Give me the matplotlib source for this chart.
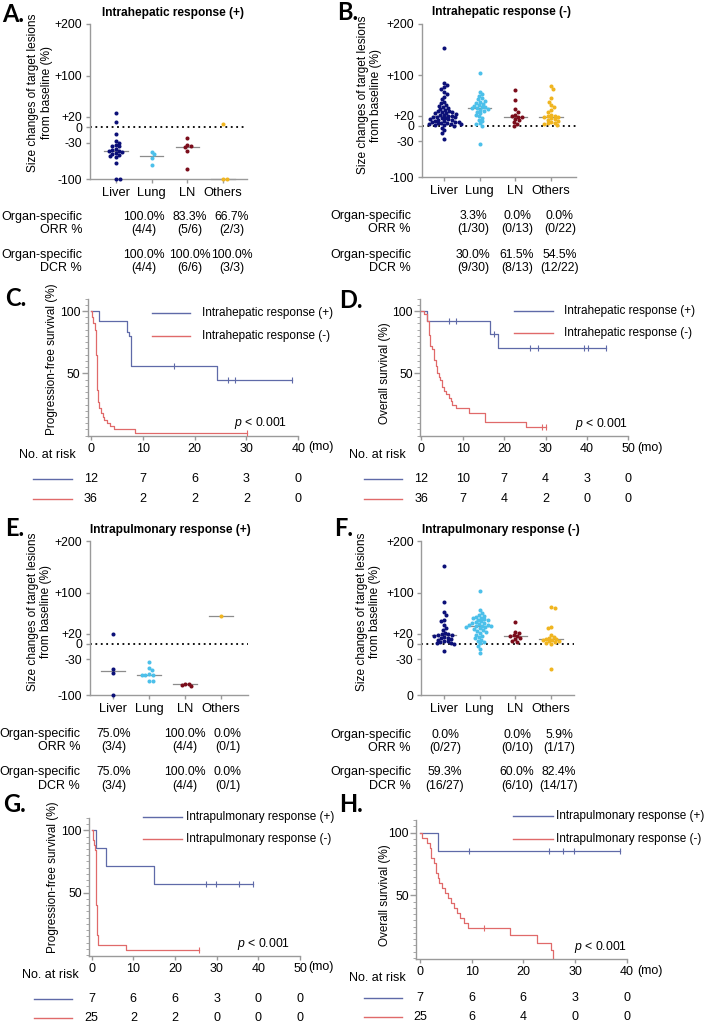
import numpy as np
import matplotlib
matplotlib.use("Agg")
import matplotlib.pyplot as plt
from matplotlib.lines import Line2D
from matplotlib.transforms import blended_transform_factory

plt.rcParams['font.family'] = ['Liberation Sans', 'DejaVu Sans']
plt.rcParams['mathtext.fontset'] = 'custom'
plt.rcParams['mathtext.it'] = 'Liberation Sans:italic'
plt.rcParams['mathtext.rm'] = 'Liberation Sans'

# ---------------- data ----------------
organs = ["Liver", "Lung", "LN", "Others"]
organ_colors = ["#0c1078", "#4cc0ea", "#7b0d1b", "#f0b520"]

y_ticks = [-100, -30, 0, 20, 100, 200]
y_ticklabels = ["-100", "-30", "0", "+20", "+100", "+200"]
y_ticklabels_F = ["0", "-30", "0", "+20", "+100", "+200"]

# Panel A: intrahepatic response (+)
A_liver = [28, 11, -13, -27, -30, -34, -36, -37, -42, -43, -45, -46, -48, -50,
           -52, -54, -56, -58, -70, -100, -100]
A_lung = [-48, -52, -60, -72]
A_ln = [-20, -34, -37, -39, -45, -81]
A_others = [6, -100, -100]

# Panel B: intrahepatic response (-)
B_liver = [153, 84, 80, 76, 72, 66, 62, 57, 52, 48, 45, 42, 40, 38, 36, 34, 32,
           30, 29, 28, 27, 26, 25, 24, 22, 21, 20, 19, 18, 18, 17, 16, 15, 14,
           13, 12, 11, 10, 9, 8, 8, 7, 6, 5, 5, 4, 3, 3, 2, 1, 0, -3, -8, -13, -26]
B_lung = [103, 67, 62, 58, 55, 52, 50, 48, 46, 44, 42, 40, 38, 37, 36, 35, 34,
          32, 30, 28, 25, 22, 19, 16, 12, 9, 5, 3, 0, -36]
B_ln = [71, 51, 33, 28, 22, 19, 18, 17, 14, 11, 8, 4, 0]
B_others = [78, 72, 54, 48, 41, 37, 31, 28, 22, 20, 19, 18, 17, 15, 13, 12, 10,
            8, 6, 5, 3, 2]

# Panel E: intrapulmonary response (+)
E_liver = [19, -49, -57, -100]
E_lung = [-36, -46, -50, -58, -60, -60, -61, -72, -73]
E_ln = [-81, -77, -80, -77]
E_others = [54]

# Panel F: intrapulmonary response (-)
F_liver = [153, 81, 63, 57, 47, 44, 37, 31, 27, 22, 20, 19, 18, 17, 16, 14, 12,
           11, 9, 8, 6, 5, 4, 2, 1, 0, -13]
F_lung = [103, 66, 61, 57, 55, 53, 51, 50, 48, 47, 46, 44, 42, 41, 40, 39, 38,
          37, 36, 35, 35, 34, 33, 31, 30, 28, 26, 24, 21, 18, 16, 13, 11, 8, 6,
          3, 1, -4, -10, -17]
F_ln = [42, 24, 21, 18, 16, 15, 12, 9, 6, 3]
F_others = [73, 71, 34, 31, 18, 14, 12, 10, 9, 8, 7, 6, 5, 3, 1, 0, -49]

# Organ-specific response rate tables
A_orr_pct = ["100.0%", "83.3%", "66.7%"]
A_orr_frac = ["(4/4)", "(5/6)", "(2/3)"]
A_dcr_pct = ["100.0%", "100.0%", "100.0%"]
A_dcr_frac = ["(4/4)", "(6/6)", "(3/3)"]
B_orr_pct = ["3.3%", "0.0%", "0.0%"]
B_orr_frac = ["(1/30)", "(0/13)", "(0/22)"]
B_dcr_pct = ["30.0%", "61.5%", "54.5%"]
B_dcr_frac = ["(9/30)", "(8/13)", "(12/22)"]
E_orr_pct = ["75.0%", "100.0%", "0.0%"]
E_orr_frac = ["(3/4)", "(4/4)", "(0/1)"]
E_dcr_pct = ["75.0%", "100.0%", "0.0%"]
E_dcr_frac = ["(3/4)", "(4/4)", "(0/1)"]
F_orr_pct = ["0.0%", "0.0%", "5.9%"]
F_orr_frac = ["(0/27)", "(0/10)", "(1/17)"]
F_dcr_pct = ["59.3%", "60.0%", "82.4%"]
F_dcr_frac = ["(16/27)", "(6/10)", "(14/17)"]

# Kaplan-Meier curves: step times, survival (%), end of follow-up, censor times
C_pos_t = [0, 1.6, 7.0, 7.3, 7.7, 24.4]
C_pos_s = [100, 91.7, 83.3, 80.0, 55.6, 44.4]
C_pos_end = 38.7
C_pos_cens = [16.0, 26.5, 27.8, 38.7]
C_neg_t = [0, 0.2, 0.5, 0.8, 1.0, 1.1, 1.2, 1.3, 1.47, 1.67, 2.0, 2.3, 2.6, 3.1,
           3.7, 4.4, 8.5]
C_neg_s = [100, 95, 90, 85, 80, 65, 50, 37, 27, 22, 18, 15, 12.5, 10, 7.5, 5.0, 2.5]
C_neg_end = 30.1
C_neg_cens = [30.1]
C_risk_pos = [12, 7, 6, 3, 0]
C_risk_neg = [36, 2, 2, 2, 0]

D_pos_t = [0, 1.45, 16.5, 18.5]
D_pos_s = [100, 91.7, 81.5, 70.0]
D_pos_end = 44.7
D_pos_cens = [6.8, 8.5, 17.6, 26.2, 28.3, 39.2, 40.3, 44.7]
D_neg_t = [0, 0.6, 1.3, 1.85, 2.1, 2.6, 3.06, 3.5, 3.86, 4.2, 4.5, 5.1, 5.5, 5.9,
           6.7, 7.1, 7.5, 8.3, 11.5, 15.5, 25.4]
D_neg_s = [100, 97.2, 91.7, 80.6, 72.2, 69.4, 61.1, 55.6, 50.0, 47.2, 44.4, 38.9,
           36.1, 33.3, 30.6, 27.8, 25.0, 22.2, 18.3, 11.0, 7.3]
D_neg_end = 30.2
D_neg_cens = [29.2, 30.2]
D_risk_pos = [12, 10, 7, 4, 3, 0]
D_risk_neg = [36, 7, 4, 2, 0, 0]

G_pos_t = [0, 1.0, 3.4, 14.9]
G_pos_s = [100, 85.7, 71.4, 57.1]
G_pos_end = 38.6
G_pos_cens = [27.5, 29.9, 35.4, 38.6]
G_neg_t = [0, 0.2, 0.4, 0.6, 0.8, 1.0, 1.1, 1.2, 1.36, 1.6, 8.3]
G_neg_s = [100, 96, 92, 88, 84, 64, 40, 20, 16, 8, 4]
G_neg_end = 25.8
G_neg_cens = [25.8]
G_risk_pos = [7, 6, 6, 3, 0, 0]
G_risk_neg = [25, 2, 2, 0, 0, 0]

H_pos_t = [0, 3.5]
H_pos_s = [100, 85.7]
H_pos_end = 38.8
H_pos_cens = [9.5, 25.0, 27.7, 29.8, 38.8]
H_neg_t = [0, 0.45, 1.4, 1.9, 2.2, 2.7, 3.0, 3.4, 3.7, 4.3, 4.8, 5.4, 6.0, 6.6,
           7.2, 7.7, 8.5, 9.2, 17.5, 22.7, 25.3, 25.8]
H_neg_s = [100, 96, 92, 88, 80, 76, 68, 64, 60, 56, 52, 48, 44, 40, 36, 32, 28,
           24, 18, 12, 6, 0]
H_neg_end = 25.8
H_neg_cens = [12.4]
H_risk_pos = [7, 6, 6, 3, 0]
H_risk_neg = [25, 6, 4, 0, 0]

km_blue = "#5f6aa8"
km_red = "#e06a6a"
axis_gray = "#9a9a9a"

# ---------------- figure ----------------
W, H = 709, 1029
fig = plt.figure(figsize=(W / 100, H / 100), dpi=100)


def T(x, y, s, **kw):
    return fig.text(x / W, 1 - y / H, s, **kw)


def axes_map(xp, xv, xlim, yp, yv, ylim):
    sx = (xp[1] - xp[0]) / (xv[1] - xv[0])
    x0 = xp[0] + (xlim[0] - xv[0]) * sx
    x1 = xp[0] + (xlim[1] - xv[0]) * sx
    sy = (yp[1] - yp[0]) / (yv[1] - yv[0])
    y_top = yp[0] + (ylim[1] - yv[0]) * sy
    y_bot = yp[0] + (ylim[0] - yv[0]) * sy
    ax = fig.add_axes([x0 / W, 1 - y_bot / H, (x1 - x0) / W, (y_bot - y_top) / H])
    ax.set_xlim(xlim)
    ax.set_ylim(ylim)
    ax.patch.set_alpha(0)
    return ax, abs(sx), abs(sy)


def swarm_offsets(vals, ypx, xpx, d=3.4):
    vals = np.asarray(vals, float)
    order = np.argsort(-vals, kind="stable")
    placed = []
    offs = np.zeros(len(vals))
    flip = 1
    for i in order:
        y = vals[i] * ypx
        best = None
        for k in range(0, 400):
            cands = [0.0] if k == 0 else [flip * k * 0.4, -flip * k * 0.4]
            for x in cands:
                if all((x - px) ** 2 + (y - py) ** 2 >= d * d for px, py in placed):
                    best = x
                    break
            if best is not None:
                break
        if best != 0:
            flip = -flip
        placed.append((best, y))
        offs[i] = best / xpx
    return offs


def style_axes(ax):
    for sp in ["top", "right"]:
        ax.spines[sp].set_visible(False)
    for sp in ["left", "bottom"]:
        ax.spines[sp].set_color(axis_gray)
        ax.spines[sp].set_linewidth(1.0)
    ax.tick_params(colors=axis_gray, labelcolor="black", width=1.0)


def scatter_panel(xp, xlim, yp, groups, ylabels, title, tpos, letter, lpos,
                  ylab_pos):
    ax, sx, sy = axes_map(xp, (0, 3), xlim, yp, (0, -100), (-100, 200))
    style_axes(ax)
    for i, (vals, col) in enumerate(zip(groups, organ_colors)):
        v = np.asarray(vals, float)
        off = swarm_offsets(v, sy, sx)
        med = np.median(v)
        ax.plot([i - 0.33, i + 0.33], [med, med], color="#8c8c8c", lw=0.9,
                zorder=2, clip_on=False)
        ax.scatter(i + off, v, s=8.5, color=col, lw=0, zorder=4, clip_on=False)
    ax.plot(xlim, [0, 0], color="black", lw=1.3, ls=(0, (1, 2.0)), zorder=1)
    ax.set_yticks(y_ticks)
    ax.set_yticklabels(ylabels, fontsize=8.8)
    ax.set_xticks(range(4))
    ax.set_xticklabels(organs, fontsize=9.3)
    ax.tick_params(axis="both", length=3, pad=2.5)
    T(tpos[0], tpos[1], title, ha="center", va="center", fontsize=8.6,
      fontweight="bold")
    T(lpos[0], lpos[1], letter, ha="left", va="center", fontsize=17,
      fontweight="bold", family=["Lato", "Liberation Sans"])
    T(ylab_pos[0], ylab_pos[1], "Size changes of target lesions\nfrom baseline (%)",
      ha="center", va="center", rotation=90, fontsize=8.6, linespacing=1.15)
    return ax


def rate_rows(label_x, cols, y_orr, y_dcr, orr_pct, orr_frac, dcr_pct, dcr_frac):
    for (y1, y2), name, pct, frac in [(y_orr, "ORR %", orr_pct, orr_frac),
                                       (y_dcr, "DCR %", dcr_pct, dcr_frac)]:
        T(label_x, y1, "Organ-specific", ha="right", va="center", fontsize=9.0)
        T(label_x, y2, name, ha="right", va="center", fontsize=9.0)
        for cx, p, f in zip(cols, pct, frac):
            T(cx, y1, p, ha="center", va="center", fontsize=8.8)
            T(cx, y2, f, ha="center", va="center", fontsize=8.8)


def fig_line(x0, x1, y, color):
    fig.add_artist(Line2D([x0 / W, x1 / W], [1 - y / H, 1 - y / H],
                          transform=fig.transFigure, color=color, lw=1.0))


def km_curve(ax, t, s, end, cens, color):
    t = np.asarray(t, float)
    s = np.asarray(s, float)
    tt = np.append(t, end)
    ss = np.append(s, s[-1])
    ax.step(tt, ss, where="post", color=color, lw=0.9, zorder=3)
    if len(cens):
        c = np.asarray(cens, float)
        cy = s[np.searchsorted(t, c, side="right") - 1]
        ax.plot(c, cy, ls="none", marker="|", ms=4, mew=0.8, color=color,
                zorder=3)


def km_panel(xp, xv, xlim, yp, xticks, pos, neg, ylabel, ylab_pos, legend,
             leg_x, leg_y, pval_pos, mo_pos, risk_label_pos, risk_ys, risk_line_x,
             risk_pos, risk_neg, letter, lpos):
    ax, sx, sy = axes_map(xp, xv, xlim, yp, (0, 100), (-0.5, 110))
    style_axes(ax)
    km_curve(ax, *pos, km_blue)
    km_curve(ax, *neg, km_red)
    ax.set_xticks(xticks)
    ax.set_xticklabels([str(x) for x in xticks], fontsize=9)
    ax.set_yticks([50, 100])
    ax.set_yticklabels(["50", "100"], fontsize=8.8)
    ax.set_yticks(np.arange(0, 111, 5), minor=True)
    ax.tick_params(axis="x", length=3, pad=2)
    ax.tick_params(axis="y", which="major", length=4.5, pad=0.8)
    ax.tick_params(axis="y", which="minor", length=2.5, colors=axis_gray)
    T(ylab_pos[0], ylab_pos[1], ylabel, rotation=90, ha="center", va="center",
      fontsize=8.5)
    for yy, col, lab in zip(leg_y, [km_blue, km_red], legend):
        fig_line(leg_x[0], leg_x[1], yy, col)
        T(leg_x[2], yy, lab, ha="left", va="center", fontsize=8.5)
    T(pval_pos[0], pval_pos[1], r"$p$ < 0.001", ha="right", va="center",
      fontsize=8.8)
    T(mo_pos[0], mo_pos[1], "(mo)", ha="left", va="center", fontsize=9)
    T(risk_label_pos[0], risk_label_pos[1], "No. at risk", ha="right",
      va="center", fontsize=9)
    trans = blended_transform_factory(ax.transData, fig.transFigure)
    for yy, col, vals in zip(risk_ys, [km_blue, km_red], [risk_pos, risk_neg]):
        fig_line(risk_line_x[0], risk_line_x[1], yy, col)
        for x, n in zip(xticks, vals):
            ax.text(x, 1 - yy / H, str(n), transform=trans, ha="center",
                    va="center", fontsize=9)
    T(lpos[0], lpos[1], letter, ha="left", va="center", fontsize=17,
      fontweight="bold", family=["Lato", "Liberation Sans"])
    return ax


# ----- scatter panels -----
scatter_panel((116, 223), (-0.73, 3.67), (127.3, 179.0),
              [A_liver, A_lung, A_ln, A_others], y_ticklabels,
              "Intrahepatic response (+)", (173, 13), "A.", (2, 14), (40, 93))
scatter_panel((444, 551), (-0.62, 3.7), (126.0, 177.0),
              [B_liver, B_lung, B_ln, B_others], y_ticklabels,
              "Intrahepatic response (-)", (502, 12), "B.", (337, 13), (369.5, 95))
scatter_panel((113, 221), (-0.64, 3.74), (644.0, 695.3),
              [E_liver, E_lung, E_ln, E_others], y_ticklabels,
              "Intrapulmonary response (+)", (170, 530), "E.", (5, 528), (39.5, 612))
scatter_panel((444, 551), (-0.64, 3.64), (644.0, 695.3),
              [F_liver, F_lung, F_ln, F_others], y_ticklabels_F,
              "Intrapulmonary response (-)", (501, 530), "F.", (334, 528), (368.5, 612))

rate_rows(82, [144, 190, 232], (217, 230), (255, 268),
          A_orr_pct, A_orr_frac, A_dcr_pct, A_dcr_frac)
rate_rows(411, [473, 517, 560], (216, 229), (255, 268),
          B_orr_pct, B_orr_frac, B_dcr_pct, B_dcr_frac)
rate_rows(80, [114, 185, 228], (734, 747), (772, 786),
          E_orr_pct, E_orr_frac, E_dcr_pct, E_dcr_frac)
rate_rows(411, [445, 517, 559], (735, 748), (772, 786),
          F_orr_pct, F_orr_frac, F_dcr_pct, F_dcr_frac)

# ----- Kaplan-Meier panels -----
hep = ["Intrahepatic response (+)", "Intrahepatic response (-)"]
pul = ["Intrapulmonary response (+)", "Intrapulmonary response (-)"]

km_panel((90.7, 298.3), (0, 40), (-0.6, 40), (435.7, 311.0), [0, 10, 20, 30, 40],
         (C_pos_t, C_pos_s, C_pos_end, C_pos_cens),
         (C_neg_t, C_neg_s, C_neg_end, C_neg_cens),
         "Progression-free survival (%)", (52, 359), hep,
         (152, 190, 202), (313, 336), (287, 423), (308, 447), (76, 455),
         (479, 499), (33, 72), C_risk_pos, C_risk_neg, "C.", (5, 299))
km_panel((421.3, 628.3), (0, 50), (-0.3, 50), (435.7, 311.0),
         [0, 10, 20, 30, 40, 50],
         (D_pos_t, D_pos_s, D_pos_end, D_pos_cens),
         (D_neg_t, D_neg_s, D_neg_end, D_neg_cens),
         "Overall survival (%)", (385, 373), hep,
         (514, 553, 564), (311, 333), (628, 424), (637, 448), (406, 455),
         (479, 499), (364, 402), D_risk_pos, D_risk_neg, "D.", (339, 301))
km_panel((91.7, 300.0), (0, 50), (-0.6, 50), (955.0, 830.3),
         [0, 10, 20, 30, 40, 50],
         (G_pos_t, G_pos_s, G_pos_end, G_pos_cens),
         (G_neg_t, G_neg_s, G_neg_end, G_neg_cens),
         "Progression-free survival (%)", (53, 877.5), pul,
         (143, 182, 186), (817, 839), (290, 944), (308, 967), (79, 975),
         (999, 1018), (34, 72), G_risk_pos, G_risk_neg, "G.", (3, 805))
km_panel((420.0, 626.7), (0, 40), (-0.7, 40), (958.0, 832.7), [0, 10, 20, 30, 40],
         (H_pos_t, H_pos_s, H_pos_end, H_pos_cens),
         (H_neg_t, H_neg_s, H_neg_end, H_neg_cens),
         "Overall survival (%)", (385, 895), pul,
         (513, 553, 556), (816, 839), (627, 947), (637, 971), (406, 978),
         (998, 1017), (364, 402), H_risk_pos, H_risk_neg, "H.", (339, 805))

fig.savefig("out.png", dpi=100, facecolor="white")
